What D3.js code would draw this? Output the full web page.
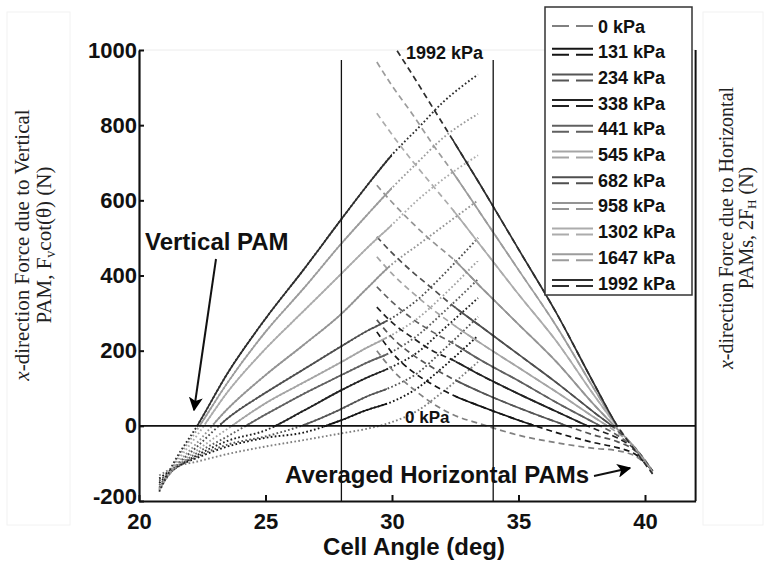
<!DOCTYPE html>
<html><head><meta charset="utf-8">
<script src="https://cdn.jsdelivr.net/npm/d3@7"></script>
<style>body{margin:0;background:#fff}svg{display:block}</style>
</head><body>
<svg id="c" width="764" height="561"></svg>
<script>
// ---------- data ----------
const pressures = [0, 131, 234, 338, 441, 545, 682, 958, 1302, 1647, 1992];
const legendLabels = ["0 kPa","131 kPa","234 kPa","338 kPa","441 kPa","545 kPa","682 kPa","958 kPa","1302 kPa","1647 kPa","1992 kPa"];
const grays = ["#808080","#151515","#555555","#222222","#606060","#a5a5a5","#4f4f4f","#949494","#acacac","#9c9c9c","#2e2e2e"];

// Vertical PAM force curves (rising), sampled at these cell angles
const vertAngles = [20.8, 21.4, 22.3, 23.5, 25, 26.5, 28, 29, 30, 31, 32, 33.4];
const vert0    = [-132,-110,-95,-75,-55,-38,-20,-8,10,40,90,170];
const vert131  = [-140,-112,-85,-55,-32,-18,15,42,64,100,155,240];
const vert234  = [-146,-115,-82,-50,-28,2,45,78,104,140,200,290];
const vert338  = [-152,-115,-78,-40,-12,40,95,128,157,195,255,340];
const vert441  = [-158,-115,-72,-28,30,85,135,168,197,240,300,390];
const vert545  = [-162,-114,-65,-8,60,115,170,208,242,285,345,440];
const vert682  = [-165,-112,-55,20,88,150,212,252,287,335,400,500];
const vert958  = [-168,-110,-45,45,135,215,298,365,430,480,530,600];
const vert1302 = [-170,-105,-25,90,205,305,405,472,535,600,655,720];
const vert1647 = [-172,-100,-10,115,250,365,485,560,633,700,765,830];
const vert1992 = [-175,-95,0,140,285,415,550,638,721,790,860,935];
const vertValues = [vert0,vert131,vert234,vert338,vert441,vert545,vert682,vert958,vert1302,vert1647,vert1992];
// valid (solid) range of each vertical curve
const vertSolid = [null,[27.3,29.8],[26.45,29.8],[25.35,29.8],[24.2,29.8],[23.65,29.8],[23.2,29.8],[22.95,29.9],[22.6,30],[22.4,30],[22.3,30]];

// Averaged horizontal PAM force curves (falling)
const horizAngles = [29.4, 30, 30.8, 31.6, 32.4, 33.5, 35, 36.5, 38, 38.9, 39.6, 40.3];
const horiz0    = [200,150,100,60,30,5,-25,-45,-60,-66,-80,-118];
const horiz131  = [250,195,145,110,82,52,15,-18,-45,-58,-75,-120];
const horiz234  = [282,235,190,155,125,90,48,10,-25,-42,-66,-120];
const horiz338  = [316,275,235,200,175,135,85,38,-8,-32,-62,-120];
const horiz441  = [370,330,285,250,220,175,120,62,8,-25,-60,-120];
const horiz545  = [450,405,355,310,270,220,155,90,22,-18,-58,-120];
const horiz682  = [503,460,410,365,320,265,190,115,35,-12,-58,-120];
const horiz958  = [640,595,540,490,445,370,270,170,55,-8,-58,-122];
const horiz1302 = [832,775,705,640,575,480,350,225,80,-2,-60,-124];
const horiz1647 = [968,905,830,750,675,565,415,265,97,0,-62,-126];
const horiz1992 = [1090,1020,935,848,761,640,470,300,110,0,-65,-128];
const horizValues = [horiz0,horiz131,horiz234,horiz338,horiz441,horiz545,horiz682,horiz958,horiz1302,horiz1647,horiz1992];
const horizSolid = [null,[32.5,35.6],[32.5,36.9],[32.5,37.7],[32.5,38.2],[32.5,38.5],[32.5,38.7],[32.45,38.8],[32.4,38.85],[32.4,38.9],[32.4,38.9]];

const xTicks = [20, 25, 30, 35, 40];
const yTicks = [-200, 0, 200, 400, 600, 800, 1000];
const refAngles = [28, 34];

// ---------- layout ----------
const svg = d3.select("#c");
const L = 139, R = 695.6, T = 50, B = 501;
const x = d3.scaleLinear().domain([20, 42]).range([L, R]);
const y = d3.scaleLinear().domain([-200, 1000]).range([B, T]);
const BOLD = "'Liberation Sans', Arial, sans-serif";
const SERIF = "'Liberation Serif', 'Times New Roman', serif";

const defs = svg.append("defs");
defs.append("clipPath").attr("id","plot").append("rect")
  .attr("x",L).attr("y",T).attr("width",R-L).attr("height",B-T);
defs.append("marker").attr("id","ah").attr("viewBox","0 0 10 10").attr("refX",9).attr("refY",5)
  .attr("markerWidth",7).attr("markerHeight",7).attr("markerUnits","strokeWidth").attr("orient","auto")
  .append("path").attr("d","M0,0L10,5L0,10L2.5,5z").attr("fill","#000");

// faint label panels
svg.append("rect").attr("x",7).attr("y",12).attr("width",63).attr("height",513).attr("fill","none").attr("stroke","#f2f2f2");
svg.append("rect").attr("x",703).attr("y",12).attr("width",60).attr("height",513).attr("fill","none").attr("stroke","#f2f2f2");

// top faint border
svg.append("line").attr("x1",L).attr("x2",R).attr("y1",T).attr("y2",T).attr("stroke","#ececec").attr("stroke-width",1);

const line = d3.line().x(d=>x(d[0])).y(d=>y(d[1])).curve(d3.curveMonotoneX);
const g = svg.append("g").attr("clip-path","url(#plot)");

// solid-range clip paths
pressures.forEach((p,i)=>{
  if (vertSolid[i]) defs.append("clipPath").attr("id","vs"+i).append("rect")
    .attr("x",x(vertSolid[i][0])).attr("width",x(vertSolid[i][1])-x(vertSolid[i][0])).attr("y",0).attr("height",561);
  if (horizSolid[i]) defs.append("clipPath").attr("id","hs"+i).append("rect")
    .attr("x",x(horizSolid[i][0])).attr("width",x(horizSolid[i][1])-x(horizSolid[i][0])).attr("y",0).attr("height",561);
});

const vData = vertValues.map(vs => vs.map((v,k)=>[vertAngles[k], v]));
const hData = horizValues.map(vs => vs.map((v,k)=>[horizAngles[k], v]));

// dotted: full vertical curves
pressures.forEach((p,i)=>{
  g.append("path").attr("d",line(vData[i])).attr("fill","none").attr("stroke",grays[i])
   .attr("stroke-width",1.9).attr("stroke-dasharray","1.7,2.3");
});
// dashed: full horizontal curves
pressures.forEach((p,i)=>{
  g.append("path").attr("d",line(hData[i])).attr("fill","none").attr("stroke",grays[i])
   .attr("stroke-width",1.7).attr("stroke-dasharray","6,4");
});
// solid valid ranges
pressures.forEach((p,i)=>{
  if (vertSolid[i]) g.append("g").attr("clip-path","url(#vs"+i+")").append("path").attr("d",line(vData[i]))
    .attr("fill","none").attr("stroke",grays[i]).attr("stroke-width",1.7);
  if (horizSolid[i]) g.append("g").attr("clip-path","url(#hs"+i+")").append("path").attr("d",line(hData[i]))
    .attr("fill","none").attr("stroke",grays[i]).attr("stroke-width",1.7);
});

// reference lines
refAngles.forEach(a=>{
  svg.append("line").attr("x1",x(a)).attr("x2",x(a)).attr("y1",60).attr("y2",B).attr("stroke","#111").attr("stroke-width",1.3);
});
svg.append("line").attr("x1",L).attr("x2",R).attr("y1",y(0)).attr("y2",y(0)).attr("stroke","#111").attr("stroke-width",1.6);

// axes
const plain = d => String(d);
const xAxis = svg.append("g").attr("transform",`translate(0,${B})`)
  .call(d3.axisBottom(x).tickValues(xTicks).tickSize(-6).tickSizeOuter(0).tickPadding(12).tickFormat(plain));
const yAxis = svg.append("g").attr("transform",`translate(${L},0)`)
  .call(d3.axisLeft(y).tickValues(yTicks).tickSize(-5).tickSizeOuter(0).tickPadding(2).tickFormat(plain));
[xAxis,yAxis].forEach(a=>{
  a.select(".domain").attr("stroke","#111").attr("stroke-width",2.2);
  a.selectAll(".tick line").attr("stroke","#111").attr("stroke-width",2);
  a.selectAll("text").attr("font-family",BOLD).attr("font-weight","bold").attr("font-size",22).attr("fill","#111");
});
// lift the bottom-most y label a little so it clears the x labels
yAxis.selectAll(".tick text").filter(d=>d===-200).attr("dy","0.1em");
svg.append("line").attr("x1",R).attr("x2",R).attr("y1",T).attr("y2",B).attr("stroke","#111").attr("stroke-width",2);

// x label
svg.append("text").attr("x",414).attr("y",555).attr("text-anchor","middle")
  .attr("font-family",BOLD).attr("font-weight","bold").attr("font-size",24).attr("fill","#111").text("Cell Angle (deg)");

// left y title
const lt = svg.append("g").attr("transform","translate(29,245) rotate(-90)");
const l1 = lt.append("text").attr("text-anchor","middle").attr("font-family",SERIF).attr("font-size",21).attr("fill","#222");
l1.append("tspan").attr("font-style","italic").text("x");
l1.append("tspan").text("-direction Force due to Vertical");
const l2 = lt.append("text").attr("y",22).attr("text-anchor","middle").attr("font-family",SERIF).attr("font-size",21).attr("fill","#222");
l2.append("tspan").text("PAM, F");
l2.append("tspan").attr("font-size",14).attr("dy",4).text("v");
l2.append("tspan").attr("dy",-4).text("cot(θ) (N)");

// right y title
const rt = svg.append("g").attr("transform","translate(733,228) rotate(-90)");
const r1 = rt.append("text").attr("text-anchor","middle").attr("font-family",SERIF).attr("font-size",20).attr("fill","#222");
r1.append("tspan").attr("font-style","italic").text("x");
r1.append("tspan").text("-direction Force due to Horizontal");
const r2 = rt.append("text").attr("y",20).attr("text-anchor","middle").attr("font-family",SERIF).attr("font-size",20).attr("fill","#222");
r2.append("tspan").text("PAMs, 2F");
r2.append("tspan").attr("font-size",13).attr("dy",3).text("H");
r2.append("tspan").attr("dy",-3).text(" (N)");

// annotations
const ann = (t,xx,yy,fs)=>svg.append("text").attr("x",xx).attr("y",yy).attr("font-family",BOLD)
  .attr("font-weight","bold").attr("font-size",fs).attr("fill","#111").text(t);
ann("1992 kPa",406,59,18);
ann("0 kPa",405,423,17);
ann("Vertical PAM",145,250,24);
ann("Averaged Horizontal PAMs",285,483,24);
svg.append("line").attr("x1",216).attr("y1",259).attr("x2",194).attr("y2",410).attr("stroke","#111").attr("stroke-width",2).attr("marker-end","url(#ah)");
svg.append("line").attr("x1",594).attr("y1",476).attr("x2",630).attr("y2",468).attr("stroke","#111").attr("stroke-width",2).attr("marker-end","url(#ah)");

// legend
const lg = svg.append("g");
lg.append("rect").attr("x",545).attr("y",7).attr("width",147).attr("height",288).attr("fill","#fff").attr("stroke","#333").attr("stroke-width",1.5);
legendLabels.forEach((lab,i)=>{
  const cy = 26 + i*25.7;
  if (i===0) {
    lg.append("line").attr("x1",552).attr("x2",593).attr("y1",cy).attr("y2",cy).attr("stroke",grays[i]).attr("stroke-width",2).attr("stroke-dasharray","17,7");
  } else {
    lg.append("line").attr("x1",552).attr("x2",593).attr("y1",cy-3).attr("y2",cy-3).attr("stroke",grays[i]).attr("stroke-width",2);
    lg.append("line").attr("x1",552).attr("x2",593).attr("y1",cy+3).attr("y2",cy+3).attr("stroke",grays[i]).attr("stroke-width",2).attr("stroke-dasharray","17,7");
  }
  lg.append("text").attr("x",598).attr("y",cy+6.5).attr("font-family",BOLD).attr("font-weight","bold").attr("font-size",18).attr("fill","#111").text(lab);
});
</script>
</body></html>
